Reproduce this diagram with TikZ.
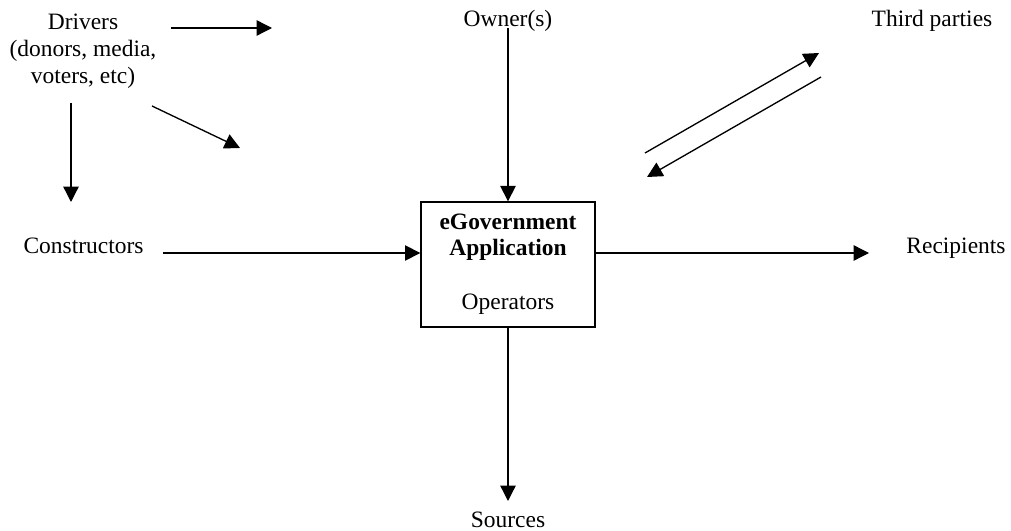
\documentclass[tikz,border=0pt]{standalone}
\usepackage{fontspec}
\setmainfont{Liberation Serif}
\usetikzlibrary{arrows.meta}
\begin{document}
\begin{tikzpicture}[x=0.75pt,y=-0.75pt,
  lbl/.style={inner sep=0pt, font=\fontsize{17.6}{20.25}\selectfont},
  arr/.style={line width=1pt, -{Triangle[length=11.5pt,width=11.5pt]}},
  appbox/.style={draw, line width=1pt, minimum width=130.5pt, minimum height=93.75pt, inner sep=0pt}]
\useasboundingbox (0,0) rectangle (1011,531);
% box
\node[appbox] (app) at (508,264.5) {};
\node[lbl, anchor=base, font=\fontsize{17.6}{20.25}\selectfont\bfseries] (t1) at (508,230) {eGovernment};
\node[lbl, anchor=base, font=\fontsize{17.6}{20.25}\selectfont\bfseries] (t2) at (508,256) {Application};
\node[lbl, anchor=base] (t3) at (508,310) {Operators};
% labels
\node[lbl, align=center] (drivers) at (83,51) {Drivers\\(donors, media,\\voters, etc)};
\node[lbl, anchor=base] (owner) at (508,27) {Owner(s)};
\node[lbl, anchor=base] (third) at (932,27) {Third parties};
\node[lbl, anchor=base] (constr) at (83.5,253) {Constructors};
\node[lbl, anchor=base] (recip) at (956,253) {Recipients};
\node[lbl, anchor=base] (sources) at (508,527) {Sources};
% free ends
\coordinate (d1s) at (171,28);
\coordinate (d1e) at (272,28);
\coordinate (d2s) at (152,106);
\coordinate (d2e) at (240,148);
\coordinate (d3s) at (71,103);
\coordinate (d3e) at (71,202);
\coordinate (cs) at (163,253);
\coordinate (re) at (869,253);
\coordinate (os) at (508,28);
\coordinate (se) at (508,501);
\coordinate (u1s) at (645,153);
\coordinate (u1e) at (819,53);
\coordinate (u2s) at (821,77);
\coordinate (u2e) at (647,177);
% arrows
\draw[arr] (d1s) -- (d1e);
\draw[arr] (d2s) -- (d2e);
\draw[arr] (d3s) -- (d3e);
\draw[arr] (cs) -- (app.west |- cs);
\draw[arr] (app.east |- re) -- (re);
\draw[arr] (os) -- (app.north);
\draw[arr] (app.south) -- (se);
\draw[arr] (u1s) -- (u1e);
\draw[arr] (u2s) -- (u2e);
\end{tikzpicture}
\end{document}
